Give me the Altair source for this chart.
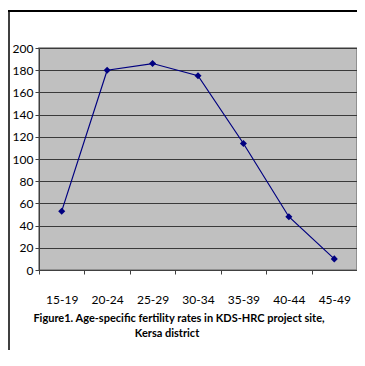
import altair as alt
import pandas as pd

age_groups = ["15-19", "20-24", "25-29", "30-34", "35-39", "40-44", "45-49"]
asfr = [53, 180, 186, 175, 114, 48, 10]
title_lines = ["Figure1. Age-specific fertility rates in KDS-HRC project site,", "Kersa district"]

df = pd.DataFrame({"age": age_groups, "rate": asfr})
FONT = "Lato, Liberation Sans, sans-serif"

x = alt.X("age:N", sort=age_groups, title=None,
          scale=alt.Scale(paddingInner=0, paddingOuter=0),
          axis=alt.Axis(labelAngle=0, tickBand="extent", grid=False, tickSize=4,
                        labelPadding=29, labelBaseline="alphabetic",
                        labelFontSize=12, labelFont=FONT,
                        labelColor="black", domainColor="#404040", tickColor="#404040"))
y = alt.Y("rate:Q", title=None,
          scale=alt.Scale(domain=[0, 200], nice=False),
          axis=alt.Axis(values=list(range(0, 201, 20)), tickSize=4, labelPadding=2,
                        labelFontSize=12, labelFont=FONT, labelColor="black",
                        gridColor="#3a3a3a", gridWidth=1, domainColor="#404040",
                        tickColor="#404040"))

line = alt.Chart(df).mark_line(color="#000080", strokeWidth=1.2).encode(x=x, y=y)
pts = alt.Chart(df).mark_point(shape="diamond", filled=True, color="#000080",
                               size=50, opacity=1).encode(x=x, y=y)

frame_df = pd.DataFrame({"k": [0]})
left_rule = alt.Chart(frame_df).mark_rule(color="black", strokeWidth=1.5).encode(
    x=alt.value(-30), y=alt.value(-38), y2=alt.value(304))
top_rule = alt.Chart(frame_df).mark_rule(color="black", strokeWidth=2).encode(
    x=alt.value(-31), x2=alt.value(318), y=alt.value(-37))

t1 = alt.Chart(pd.DataFrame({"t": [title_lines[0]]})).mark_text(
    font=FONT, fontSize=11, fontWeight="bold", color="black",
    align="center", baseline="alphabetic").encode(
    x=alt.value(140), y=alt.value(274), text="t:N")
t2 = alt.Chart(pd.DataFrame({"t": [title_lines[1]]})).mark_text(
    font=FONT, fontSize=11, fontWeight="bold", color="black",
    align="center", baseline="alphabetic").encode(
    x=alt.value(128), y=alt.value(289), text="t:N")

chart = alt.layer(line, pts, left_rule, top_rule, t1, t2).properties(
    width=318, height=222,
    autosize=alt.AutoSizeParams(type="none"),
    padding={"left": 31, "top": 40, "right": 0, "bottom": 80},
).configure(background="white").configure_view(fill="#C0C0C0", stroke="#808080", strokeWidth=1.5)

chart.save("out.html", embed_options={"renderer": "svg", "actions": False})
